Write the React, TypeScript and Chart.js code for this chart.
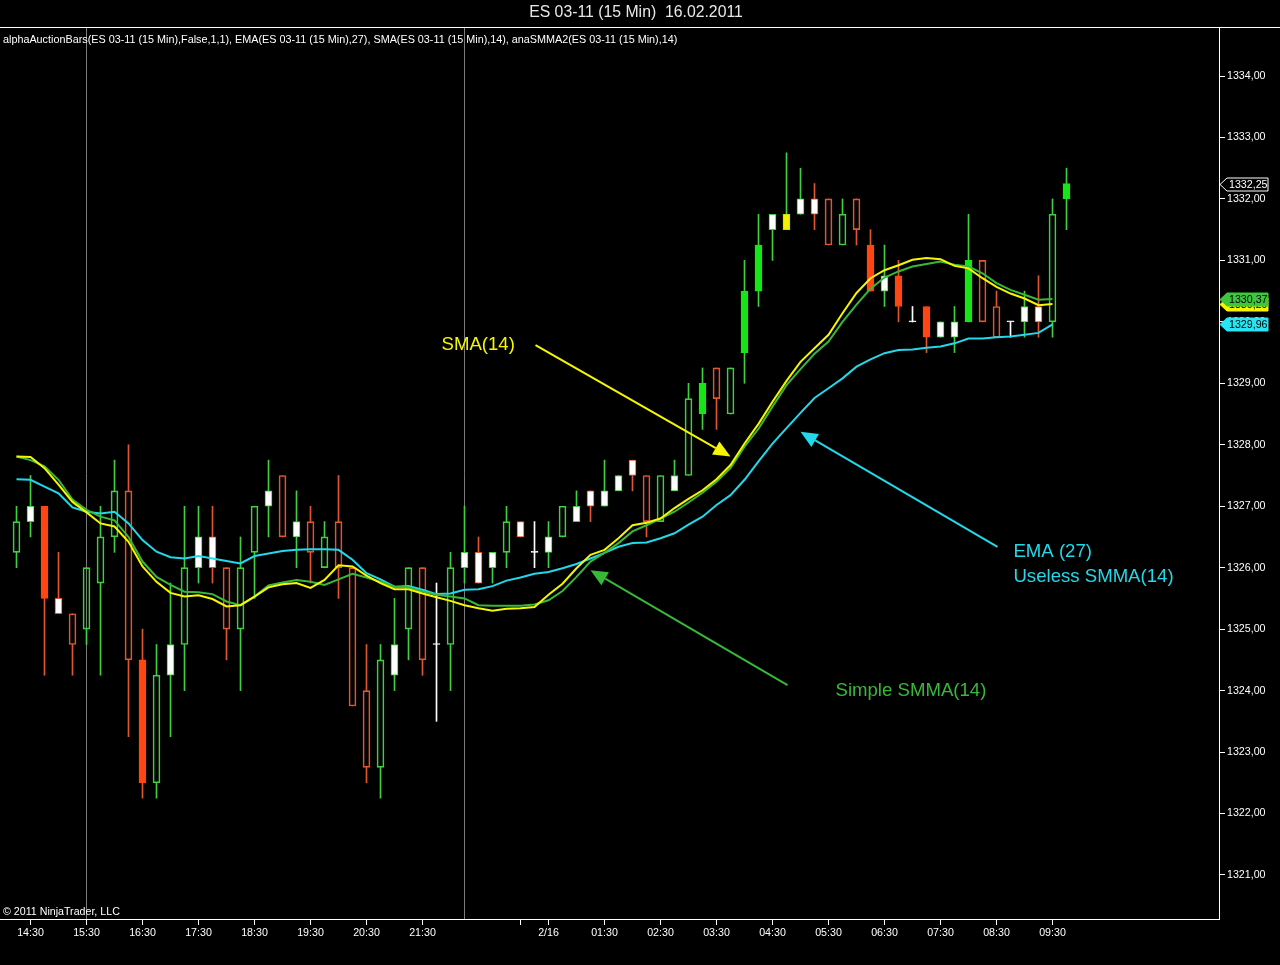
import React, { useEffect, useRef } from "react";
import { Chart, registerables } from "chart.js";

Chart.register(...registerables);

const FONT = '"Liberation Sans", Arial, sans-serif';

// ---------- data ----------
const opens = [
  1326.25, 1326.75, 1327.0, 1325.5, 1325.25, 1325.0, 1325.75, 1326.5, 1327.25, 1324.5,
  1322.5, 1324.25, 1324.75, 1326.0, 1326.5, 1326.0, 1325.0, 1326.25, 1327.0, 1327.5,
  1326.5, 1326.75, 1326.0, 1326.75, 1326.0, 1324.0, 1322.75, 1324.25, 1325.0, 1326.0,
  1324.75, 1324.75, 1326.0, 1326.25, 1326.0, 1326.25, 1326.75, 1326.25, 1326.25, 1326.5,
  1326.75, 1327.25, 1327.0, 1327.25, 1327.75, 1327.5, 1326.75, 1327.25, 1327.5, 1328.5,
  1329.25, 1328.5, 1329.5, 1330.5, 1331.5, 1331.5, 1331.75, 1332.0, 1332.0, 1331.25,
  1332.0, 1331.25, 1330.5, 1330.75, 1330.0, 1330.25, 1329.75, 1329.75, 1330.0, 1331.0,
  1330.25, 1330.0, 1330.0, 1330.25, 1330.0, 1332.0,
];
const highs = [
  1327.0, 1327.5, 1327.0, 1326.25, 1325.25, 1326.0, 1327.0, 1327.75, 1328.0, 1325.0,
  1324.75, 1325.75, 1327.0, 1327.0, 1327.0, 1326.0, 1326.5, 1327.0, 1327.75, 1327.5,
  1327.25, 1327.0, 1326.75, 1327.5, 1326.0, 1324.75, 1324.75, 1325.5, 1326.0, 1326.0,
  1325.75, 1326.25, 1327.0, 1326.5, 1326.25, 1327.0, 1326.75, 1326.75, 1326.75, 1327.0,
  1327.25, 1327.25, 1327.75, 1327.5, 1327.75, 1327.5, 1327.5, 1327.75, 1329.0, 1329.25,
  1329.25, 1329.25, 1331.0, 1331.75, 1331.75, 1332.75, 1332.5, 1332.25, 1332.0, 1332.0,
  1332.0, 1331.5, 1331.25, 1331.0, 1330.25, 1330.25, 1330.0, 1330.25, 1331.75, 1331.0,
  1330.5, 1330.0, 1330.5, 1330.75, 1332.0, 1332.5,
];
const lows = [
  1326.0, 1326.5, 1324.25, 1325.25, 1324.25, 1324.75, 1324.25, 1326.25, 1323.25, 1322.25,
  1322.25, 1323.25, 1324.0, 1325.75, 1325.75, 1324.5, 1324.0, 1325.5, 1326.5, 1326.5,
  1326.0, 1325.75, 1326.0, 1325.5, 1323.75, 1322.5, 1322.25, 1324.0, 1324.5, 1324.25,
  1323.5, 1324.0, 1325.75, 1325.75, 1325.75, 1326.0, 1326.5, 1326.0, 1326.0, 1326.5,
  1326.75, 1326.75, 1327.0, 1327.25, 1327.25, 1326.5, 1326.75, 1327.25, 1327.5, 1328.25,
  1328.25, 1328.5, 1329.0, 1330.25, 1331.0, 1331.5, 1331.75, 1331.5, 1331.25, 1331.25,
  1331.25, 1330.5, 1330.25, 1330.0, 1330.0, 1329.5, 1329.75, 1329.5, 1330.0, 1330.0,
  1329.75, 1329.75, 1329.75, 1329.75, 1329.75, 1331.5,
];
const closes = [
  1326.75, 1327.0, 1325.5, 1325.25, 1324.75, 1326.0, 1326.5, 1327.25, 1324.5, 1322.5,
  1324.25, 1324.75, 1326.0, 1326.5, 1326.0, 1325.0, 1326.0, 1327.0, 1327.25, 1326.5,
  1326.75, 1326.25, 1326.5, 1326.0, 1323.75, 1322.75, 1324.5, 1324.75, 1326.0, 1324.5,
  1324.75, 1326.0, 1326.25, 1325.75, 1326.25, 1326.75, 1326.5, 1326.25, 1326.5, 1327.0,
  1327.0, 1327.0, 1327.25, 1327.5, 1327.5, 1326.75, 1327.5, 1327.5, 1328.75, 1329.0,
  1328.75, 1329.25, 1330.5, 1331.25, 1331.75, 1331.75, 1332.0, 1331.75, 1331.25, 1331.75,
  1331.5, 1330.5, 1330.75, 1330.25, 1330.0, 1329.75, 1330.0, 1330.0, 1331.0, 1330.0,
  1329.75, 1330.0, 1330.25, 1330.0, 1331.75, 1332.25,
];
// alphaAuctionBars classification of each bar
const barTypes = [
  "g", "wg", "O", "wr", "r", "g", "g", "g", "r", "O",
  "g", "wg", "g", "wg", "wr", "r", "g", "g", "wg", "r",
  "wg", "r", "g", "r", "r", "r", "g", "wg", "g", "r",
  "x", "g", "wg", "wr", "wg", "g", "wr", "x", "wg", "g",
  "wg", "wr", "wg", "wg", "wr", "r", "g", "wg", "g", "G",
  "r", "g", "G", "G", "wg", "y", "wg", "wr", "r", "g",
  "r", "O", "wg", "O", "x", "O", "wg", "wg", "G", "r",
  "r", "x", "wg", "wr", "g", "G",
];
const smaValues = [
  1327.81, 1327.8, 1327.62, 1327.35, 1327.07, 1326.9, 1326.72, 1326.67, 1326.42, 1326.02,
  1325.77, 1325.59, 1325.53, 1325.55, 1325.49, 1325.37, 1325.39, 1325.53, 1325.68, 1325.73,
  1325.75, 1325.67, 1325.8, 1326.04, 1326.02, 1325.87, 1325.75, 1325.65, 1325.65, 1325.58,
  1325.52, 1325.46, 1325.39, 1325.34, 1325.3, 1325.33, 1325.34, 1325.36, 1325.56, 1325.74,
  1325.99, 1326.21, 1326.29, 1326.48, 1326.69, 1326.73, 1326.8, 1326.97, 1327.12, 1327.26,
  1327.44, 1327.67, 1328.02, 1328.34, 1328.7, 1329.04, 1329.35, 1329.57, 1329.79, 1330.14,
  1330.47, 1330.71, 1330.84, 1330.92, 1331.01, 1331.04, 1331.02, 1330.91, 1330.87, 1330.71,
  1330.57, 1330.46, 1330.38, 1330.27, 1330.29,
];
const smmaValues = [
  1327.81, 1327.75, 1327.65, 1327.43, 1327.11, 1326.94, 1326.83, 1326.77, 1326.5, 1326.1,
  1325.85, 1325.72, 1325.61, 1325.6, 1325.57, 1325.45, 1325.39, 1325.53, 1325.71, 1325.76,
  1325.8, 1325.77, 1325.72, 1325.81, 1325.9, 1325.84, 1325.77, 1325.69, 1325.68, 1325.61,
  1325.56, 1325.53, 1325.5, 1325.39, 1325.38, 1325.38, 1325.38, 1325.4, 1325.47, 1325.62,
  1325.85, 1326.1, 1326.24, 1326.4, 1326.59, 1326.69, 1326.8, 1326.91, 1327.06, 1327.22,
  1327.4, 1327.62, 1327.97, 1328.26, 1328.62, 1328.97, 1329.23, 1329.48, 1329.68, 1330.0,
  1330.28, 1330.54, 1330.72, 1330.82, 1330.9, 1330.94, 1330.98, 1330.93, 1330.9, 1330.79,
  1330.63, 1330.52, 1330.44, 1330.36, 1330.37,
];
const emaValues = [
  1327.44, 1327.43, 1327.32, 1327.21, 1326.98, 1326.91, 1326.88, 1326.91, 1326.72, 1326.45,
  1326.26, 1326.17, 1326.15, 1326.19, 1326.15, 1326.11, 1326.07, 1326.19, 1326.23, 1326.27,
  1326.29, 1326.3, 1326.3, 1326.29, 1326.13, 1325.91, 1325.81, 1325.69, 1325.7, 1325.64,
  1325.57, 1325.58, 1325.64, 1325.65, 1325.7, 1325.79, 1325.84, 1325.9, 1325.93, 1325.99,
  1326.06, 1326.15, 1326.24, 1326.34, 1326.4, 1326.41, 1326.48, 1326.56, 1326.7, 1326.83,
  1327.02, 1327.18, 1327.43, 1327.73, 1328.02, 1328.27, 1328.52, 1328.76, 1328.92, 1329.08,
  1329.27, 1329.39, 1329.49, 1329.54, 1329.55, 1329.58, 1329.6, 1329.65, 1329.73, 1329.73,
  1329.75, 1329.76, 1329.79, 1329.82, 1329.96,
];

const timeTickBars = [1, 5, 9, 13, 17, 21, 25, 29, 36, 38, 42, 46, 50, 54, 58, 62, 66, 70, 74];
const timeTickLabels = [
  "14:30", "15:30", "16:30", "17:30", "18:30", "19:30", "20:30", "21:30", "",
  "2/16", "01:30", "02:30", "03:30", "04:30", "05:30", "06:30", "07:30", "08:30", "09:30",
];
const priceTicks = [1321, 1322, 1323, 1324, 1325, 1326, 1327, 1328, 1329, 1330, 1331, 1332, 1333, 1334];
const sessionBreakBars = [5, 32];

const chartTitle = "ES 03-11 (15 Min)  16.02.2011";
const indicatorCaption =
  "alphaAuctionBars(ES 03-11 (15 Min),False,1,1), EMA(ES 03-11 (15 Min),27), SMA(ES 03-11 (15 Min),14), anaSMMA2(ES 03-11 (15 Min),14)";
const copyrightText = "© 2011 NinjaTrader, LLC";

const noteLabels = ["SMA(14)", "EMA (27)", "Useless SMMA(14)", "Simple SMMA(14)"];
const noteBars = [30.36, 71.21, 71.21, 58.5];
const notePrices = [1329.62, 1326.26, 1325.85, 1323.99];
const arrowFromBars = [37.07, 70.07, 55.07];
const arrowFromPrices = [1329.62, 1326.34, 1324.09];
const arrowToBars = [51.0, 56.0, 41.0];
const arrowToPrices = [1327.81, 1328.21, 1325.96];

// ---------- styles ----------
const C_GREEN = "#3fcf3f";
const C_RED = "#e2562f";
const C_ORANGE = "#ff4612";
const C_LIME = "#16e616";
const C_WHITE = "#ffffff";
const C_SMA = "#f6f600";
const C_SMMA = "#38b838";
const C_EMA = "#22d8ea";
const CLEAR = "rgba(0,0,0,0)";

const palette: Record<string, { fill: string; border: string; wick: string }> = {
  g: { fill: CLEAR, border: C_GREEN, wick: C_GREEN },
  r: { fill: CLEAR, border: C_RED, wick: C_RED },
  wg: { fill: C_WHITE, border: C_GREEN, wick: C_GREEN },
  wr: { fill: C_WHITE, border: C_RED, wick: C_RED },
  O: { fill: C_ORANGE, border: C_ORANGE, wick: C_RED },
  G: { fill: C_LIME, border: C_LIME, wick: C_GREEN },
  y: { fill: "#f2f200", border: "#c4e000", wick: C_GREEN },
  x: { fill: C_WHITE, border: C_WHITE, wick: C_WHITE },
};
const noteColors = [C_SMA, C_EMA, C_EMA, C_SMMA];
const arrowColors = [C_SMA, C_EMA, C_SMMA];

const fmt = (v: number) => v.toFixed(2).replace(".", ",");

// axis geometry: bar i centred at 16.5 + 14*i px, chart area 0..1219 x 28..919
const X_MIN = -16.5 / 14;
const X_MAX = X_MIN + 1219 / 14;
const Y_MAX = 1334 + 48 / 61.46;
const Y_MIN = 1334 - 843 / 61.46;

const decorations = {
  id: "decorations",
  beforeDraw(chart: any) {
    const { ctx, width, height } = chart;
    ctx.save();
    ctx.fillStyle = "#000";
    ctx.fillRect(0, 0, width, height);
    ctx.restore();
  },
  beforeDatasetsDraw(chart: any) {
    const { ctx, chartArea, scales } = chart;
    ctx.save();
    ctx.strokeStyle = "#7c7c7c";
    ctx.lineWidth = 1;
    sessionBreakBars.forEach((b) => {
      const x = scales.x.getPixelForValue(b);
      ctx.beginPath();
      ctx.moveTo(x, chartArea.top);
      ctx.lineTo(x, chartArea.bottom);
      ctx.stroke();
    });
    ctx.restore();
  },
  afterDraw(chart: any) {
    const { ctx, chartArea, scales, width } = chart;
    const xs = scales.x;
    const ys = scales.y;
    ctx.save();
    // title + separator
    ctx.fillStyle = "#e8e8e8";
    ctx.font = `15.8px ${FONT}`;
    ctx.textAlign = "center";
    ctx.textBaseline = "middle";
    ctx.fillText(chartTitle, 636, 13);
    ctx.strokeStyle = "#ffffff";
    ctx.lineWidth = 1;
    ctx.beginPath();
    ctx.moveTo(0, 27.5);
    ctx.lineTo(width, 27.5);
    ctx.stroke();
    // indicator caption
    ctx.textAlign = "left";
    ctx.fillStyle = "#ffffff";
    ctx.font = `10.8px ${FONT}`;
    ctx.fillText(indicatorCaption, 3, 40);
    // copyright
    ctx.font = `10.67px ${FONT}`;
    ctx.fillText(copyrightText, 3, 912);

    // arrows
    arrowFromBars.forEach((b, i) => {
      const x1 = xs.getPixelForValue(b);
      const y1 = ys.getPixelForValue(arrowFromPrices[i]);
      const x2 = xs.getPixelForValue(arrowToBars[i]);
      const y2 = ys.getPixelForValue(arrowToPrices[i]);
      const ang = Math.atan2(y2 - y1, x2 - x1);
      const len = 17;
      const half = 7.5;
      const bx = x2 - len * Math.cos(ang);
      const by = y2 - len * Math.sin(ang);
      ctx.strokeStyle = arrowColors[i];
      ctx.fillStyle = arrowColors[i];
      ctx.lineWidth = 2;
      ctx.beginPath();
      ctx.moveTo(x1, y1);
      ctx.lineTo(bx, by);
      ctx.stroke();
      ctx.beginPath();
      ctx.moveTo(x2, y2);
      ctx.lineTo(bx + half * Math.sin(ang), by - half * Math.cos(ang));
      ctx.lineTo(bx - half * Math.sin(ang), by + half * Math.cos(ang));
      ctx.closePath();
      ctx.fill();
    });
    // notes
    ctx.font = `18.6px ${FONT}`;
    ctx.textAlign = "left";
    ctx.textBaseline = "middle";
    noteLabels.forEach((t, i) => {
      ctx.fillStyle = noteColors[i];
      ctx.fillText(t, xs.getPixelForValue(noteBars[i]), ys.getPixelForValue(notePrices[i]));
    });

    // price tags on the axis
    const tags = [
      { v: closes[closes.length - 1], fill: "#000000", stroke: "#ffffff", text: "#ffffff" },
      { v: smaValues[smaValues.length - 1], fill: C_SMA, stroke: C_SMA, text: "#000000" },
      { v: smmaValues[smmaValues.length - 1], fill: "#3cc83c", stroke: "#3cc83c", text: "#000000" },
      { v: emaValues[emaValues.length - 1], fill: "#2ae4f2", stroke: "#2ae4f2", text: "#000000" },
    ];
    const left = chartArea.right + 1;
    ctx.font = `10.67px ${FONT}`;
    tags.forEach((t) => {
      const y = Math.round(ys.getPixelForValue(t.v)) + 0.5;
      ctx.beginPath();
      ctx.moveTo(left, y);
      ctx.lineTo(left + 7, y - 6.5);
      ctx.lineTo(left + 48, y - 6.5);
      ctx.lineTo(left + 48, y + 6.5);
      ctx.lineTo(left + 7, y + 6.5);
      ctx.closePath();
      ctx.fillStyle = t.fill;
      ctx.fill();
      ctx.strokeStyle = t.stroke;
      ctx.lineWidth = 1;
      ctx.stroke();
      ctx.fillStyle = t.text;
      ctx.textAlign = "left";
      ctx.textBaseline = "middle";
      ctx.fillText(fmt(t.v), left + 9, y + 0.5);
    });
    ctx.restore();
  },
};

export default function App() {
  const ref = useRef<HTMLCanvasElement | null>(null);

  useEffect(() => {
    const canvas = ref.current;
    if (!canvas) return;
    const idx = opens.map((_, i) => i);
    const kinds = barTypes.map((k) => palette[k]);

    const chart = new Chart(canvas, {
      type: "bar",
      data: {
        datasets: [
          {
            type: "line",
            label: "SMA(14)",
            data: smaValues.map((v, i) => ({ x: i, y: v })),
            borderColor: C_SMA,
            borderWidth: 2,
            pointRadius: 0,
            tension: 0,
            order: 0,
          } as any,
          {
            type: "line",
            label: "anaSMMA2(14)",
            data: smmaValues.map((v, i) => ({ x: i, y: v })),
            borderColor: C_SMMA,
            borderWidth: 2,
            pointRadius: 0,
            tension: 0,
            order: 0,
          } as any,
          {
            type: "line",
            label: "EMA(27)",
            data: emaValues.map((v, i) => ({ x: i, y: v })),
            borderColor: C_EMA,
            borderWidth: 2,
            pointRadius: 0,
            tension: 0,
            order: 0,
          } as any,
          {
            type: "bar",
            label: "body",
            data: idx.map((i) => ({ x: i, y: [opens[i], closes[i]] })),
            backgroundColor: kinds.map((k) => k.fill),
            borderColor: kinds.map((k) => k.border),
            borderWidth: 1,
            borderSkipped: false,
            barThickness: 7,
            minBarLength: 1,
            grouped: false,
            order: 1,
          } as any,
          {
            type: "bar",
            label: "upper wick",
            data: idx.map((i) => ({ x: i, y: [Math.max(opens[i], closes[i]), highs[i]] })),
            backgroundColor: kinds.map((k) => k.wick),
            borderWidth: 0,
            barThickness: 1,
            grouped: false,
            order: 2,
          } as any,
          {
            type: "bar",
            label: "lower wick",
            data: idx.map((i) => ({ x: i, y: [lows[i], Math.min(opens[i], closes[i])] })),
            backgroundColor: kinds.map((k) => k.wick),
            borderWidth: 0,
            barThickness: 1,
            grouped: false,
            order: 2,
          } as any,
        ],
      },
      options: {
        responsive: false,
        animation: false,
        devicePixelRatio: 1,
        layout: { padding: { top: 28, left: 0, right: 0, bottom: 0 } },
        plugins: {
          legend: { display: false },
          tooltip: { enabled: false },
          title: { display: false },
        },
        scales: {
          x: {
            type: "linear",
            min: X_MIN,
            max: X_MAX,
            offset: false,
            grid: {
              display: true,
              drawOnChartArea: false,
              drawTicks: true,
              tickLength: 6,
              color: "#ffffff",
              offset: false,
            },
            border: { display: true, color: "#ffffff", width: 1 },
            ticks: {
              color: "#ffffff",
              font: { family: FONT, size: 10.67 },
              autoSkip: false,
              maxRotation: 0,
              padding: 2,
              callback: (v: any) => {
                const k = timeTickBars.indexOf(Number(v));
                return k >= 0 ? timeTickLabels[k] : "";
              },
            },
            afterBuildTicks: (s: any) => {
              s.ticks = timeTickBars.map((v) => ({ value: v }));
            },
            afterFit: (s: any) => {
              s.height = 46;
            },
          } as any,
          y: {
            type: "linear",
            position: "right",
            min: Y_MIN,
            max: Y_MAX,
            grid: {
              display: true,
              drawOnChartArea: false,
              drawTicks: true,
              tickLength: 6,
              color: "#ffffff",
            },
            border: { display: true, color: "#ffffff", width: 1 },
            ticks: {
              color: "#ffffff",
              font: { family: FONT, size: 10.67 },
              padding: 2,
              callback: (v: any) => fmt(Number(v)),
            },
            afterBuildTicks: (s: any) => {
              s.ticks = priceTicks.map((v) => ({ value: v }));
            },
            afterFit: (s: any) => {
              s.width = 61;
            },
          } as any,
        },
      },
      plugins: [decorations],
    });
    return () => chart.destroy();
  }, []);

  return (
    <div style={{ position: "fixed", left: 0, top: 0, width: 1280, height: 965, background: "#000" }}>
      <canvas ref={ref} width={1280} height={965} style={{ display: "block", width: 1280, height: 965 }} />
    </div>
  );
}
